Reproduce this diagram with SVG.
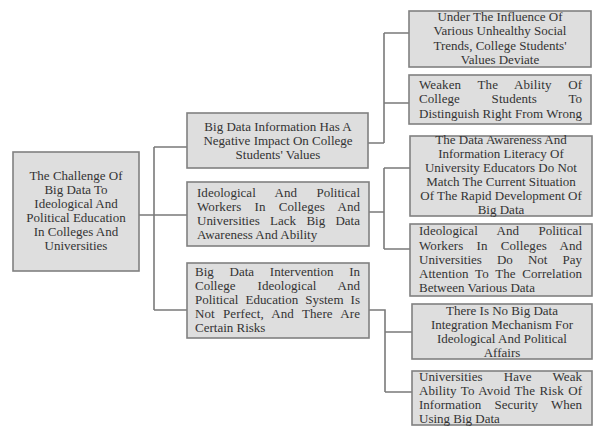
<svg xmlns="http://www.w3.org/2000/svg" width="593" height="426" viewBox="0 0 593 426">
<style>
.box{fill:#dedede;stroke:#808080;stroke-width:1.6}
.c{fill:none;stroke:#7a7a7a;stroke-width:1.6}
text{font-family:"Liberation Serif","Times New Roman",serif;font-size:13px;fill:#333}
.m{text-anchor:middle}
</style>
<rect width="593" height="426" fill="#ffffff"/>
<g id="connectors">
<path class="c" d="M139,215 H187 M154,147 V310 M154,147 H187 M154,310 H187"/>
<path class="c" d="M368,143 H384 M384,33 V143 M384,33 H409 M384,103 H409"/>
<path class="c" d="M369,212 H384 M384,168 V249 M384,168 H410 M384,249 H410"/>
<path class="c" d="M369,310 H385 V392 M385,332 H412 M385,392 H412"/>
</g>
<g id="root">
<rect class="box" x="13" y="152" width="126" height="119"/>
<text class="m" x="76" y="180">The Challenge Of</text>
<text class="m" x="76" y="194">Big Data To</text>
<text class="m" x="76" y="208">Ideological And</text>
<text class="m" x="76" y="222">Political Education</text>
<text class="m" x="76" y="236">In Colleges And</text>
<text class="m" x="76" y="250">Universities</text>
</g>
<g id="b1">
<rect class="box" x="187" y="113" width="181" height="55"/>
<text class="m" x="278" y="131">Big Data Information Has A</text>
<text class="m" x="278" y="145">Negative Impact On College</text>
<text class="m" x="278" y="159">Students' Values</text>
</g>
<g id="b2">
<rect class="box" x="187" y="182" width="182" height="64"/>
<text x="197" y="197" word-spacing="16.15" textLength="163" lengthAdjust="spacing">Ideological And Political</text>
<text x="197" y="211" word-spacing="9.92" textLength="163" lengthAdjust="spacing">Workers In Colleges And</text>
<text x="197" y="225" word-spacing="7.05" textLength="163" lengthAdjust="spacing">Universities Lack Big Data</text>
<text x="197" y="239">Awareness And Ability</text>
</g>
<g id="b3">
<rect class="box" x="187" y="263" width="182" height="75"/>
<text x="195" y="276" word-spacing="12.52" textLength="165" lengthAdjust="spacing">Big Data Intervention In</text>
<text x="195" y="290" word-spacing="18.6" textLength="165" lengthAdjust="spacing">College Ideological And</text>
<text x="195" y="304" word-spacing="3.85" textLength="165" lengthAdjust="spacing">Political Education System Is</text>
<text x="195" y="318" word-spacing="5.05" textLength="165" lengthAdjust="spacing">Not Perfect, And There Are</text>
<text x="195" y="332">Certain Risks</text>
</g>
<g id="r1">
<rect class="box" x="409" y="11" width="182" height="56"/>
<text class="m" x="500" y="21">Under The Influence Of</text>
<text class="m" x="500" y="35">Various Unhealthy Social</text>
<text class="m" x="500" y="50">Trends, College Students'</text>
<text class="m" x="500" y="64">Values Deviate</text>
</g>
<g id="r2">
<rect class="box" x="409" y="75" width="182" height="49"/>
<text x="419" y="89" word-spacing="13.3" textLength="163" lengthAdjust="spacing">Weaken The Ability Of</text>
<text x="419" y="103" word-spacing="28.4" textLength="163" lengthAdjust="spacing">College Students To</text>
<text x="419" y="118" textLength="163" lengthAdjust="spacing">Distinguish Right From Wrong</text>
</g>
<g id="r3">
<rect class="box" x="410" y="136" width="182" height="80"/>
<text class="m" x="501" y="144">The Data Awareness And</text>
<text class="m" x="501" y="158">Information Literacy Of</text>
<text class="m" x="501" y="172">University Educators Do Not</text>
<text class="m" x="501" y="186">Match The Current Situation</text>
<text class="m" x="501" y="200">Of The Rapid Development Of</text>
<text class="m" x="501" y="214">Big Data</text>
</g>
<g id="r4">
<rect class="box" x="410" y="224" width="182" height="72"/>
<text x="419" y="235" word-spacing="16.15" textLength="163" lengthAdjust="spacing">Ideological And Political</text>
<text x="419" y="250" word-spacing="9.92" textLength="163" lengthAdjust="spacing">Workers In Colleges And</text>
<text x="419" y="264" word-spacing="11.85" textLength="163" lengthAdjust="spacing">Universities Do Not Pay</text>
<text x="419" y="278" word-spacing="3.42" textLength="163" lengthAdjust="spacing">Attention To The Correlation</text>
<text x="419" y="292">Between Various Data</text>
</g>
<g id="r5">
<rect class="box" x="412" y="304" width="180" height="55"/>
<text class="m" x="502" y="315">There Is No Big Data</text>
<text class="m" x="502" y="329">Integration Mechanism For</text>
<text class="m" x="502" y="343">Ideological And Political</text>
<text class="m" x="502" y="357">Affairs</text>
</g>
<g id="r6">
<rect class="box" x="412" y="371" width="180" height="54"/>
<text x="419" y="381" word-spacing="17.95" textLength="163" lengthAdjust="spacing">Universities Have Weak</text>
<text x="419" y="395" word-spacing="1.03" textLength="163" lengthAdjust="spacing">Ability To Avoid The Risk Of</text>
<text x="419" y="409" word-spacing="10" textLength="163" lengthAdjust="spacing">Information Security When</text>
<text x="419" y="423">Using Big Data</text>
</g>
</svg>
